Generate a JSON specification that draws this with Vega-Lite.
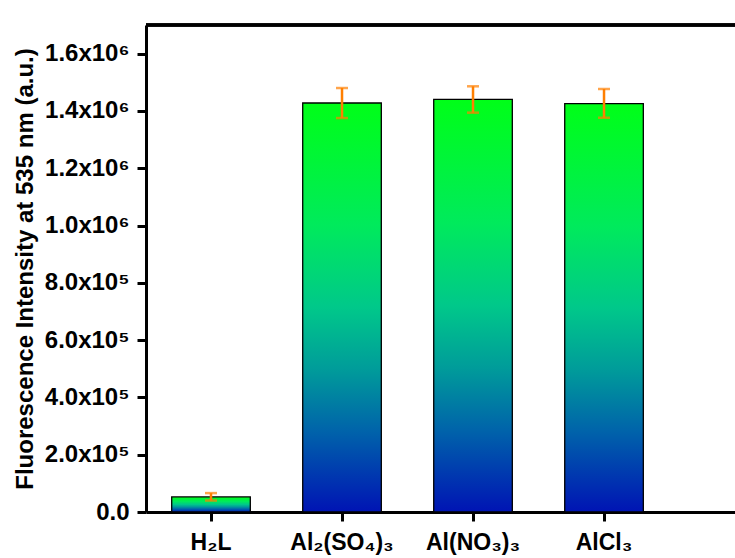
{
  "$schema": "https://vega.github.io/schema/vega-lite/v6.json",
  "width": 589,
  "height": 487,
  "autosize": {"type": "none"},
  "padding": {"left": 146, "top": 25, "right": 0, "bottom": 46},
  "config": {"view": {"stroke": null}, "font": "Liberation Sans"},
  "data": {
    "values": [
      {"name": "H₂L", "value": 52500, "lo": 40000, "hi": 66000},
      {"name": "Al₂(SO₄)₃", "value": 1427700, "lo": 1375300, "hi": 1480000},
      {"name": "Al(NO₃)₃", "value": 1440600, "lo": 1394000, "hi": 1486000},
      {"name": "AlCl₃", "value": 1425300, "lo": 1376300, "hi": 1476600}
    ]
  },
  "encoding": {
    "x": {
      "field": "name",
      "type": "nominal",
      "sort": null,
      "scale": {"paddingInner": 0.4, "paddingOuter": 0.448, "align": 0.219},
      "axis": {
        "title": null,
        "labelAngle": 0,
        "labelFont": "Liberation Sans",
        "labelFontWeight": "bold",
        "labelFontSize": 23,
        "labelColor": "black",
        "labelPadding": 10,
        "domainColor": "black",
        "domainWidth": 3,
        "tickColor": "black",
        "tickWidth": 3,
        "tickSize": 9
      }
    }
  },
  "layer": [
    {
      "mark": {
        "type": "bar",
        "stroke": "black",
        "strokeWidth": 1.3,
        "fill": {
          "gradient": "linear",
          "x1": 0, "y1": 0, "x2": 0, "y2": 1,
          "stops": [
            {"offset": 0, "color": "#00ff18"},
            {"offset": 0.3, "color": "#00ea5c"},
            {"offset": 0.5, "color": "#00c88a"},
            {"offset": 0.65, "color": "#009c9a"},
            {"offset": 0.8, "color": "#0064aa"},
            {"offset": 1, "color": "#0014b4"}
          ]
        }
      },
      "encoding": {
        "y": {
          "field": "value",
          "type": "quantitative",
          "title": "Fluorescence Intensity at 535 nm (a.u.)",
          "scale": {"domain": [0, 1700000], "nice": false, "zero": true},
          "axis": {
            "values": [0, 200000, 400000, 600000, 800000, 1000000, 1200000, 1400000, 1600000],
            "labelExpr": "datum.value == 0 ? '0.0' : (datum.value < 1000000 ? format(datum.value / 100000, '.1f') + 'x10⁵' : format(datum.value / 1000000, '.1f') + 'x10⁶')",
            "grid": false,
            "titleFont": "Liberation Sans",
            "titleFontWeight": "bold",
            "titleFontSize": 24,
            "titleColor": "black",
            "titlePadding": 7,
            "labelFont": "Liberation Sans",
            "labelFontWeight": "bold",
            "labelFontSize": 24,
            "labelColor": "black",
            "labelPadding": 8,
            "domainColor": "black",
            "domainWidth": 3,
            "tickColor": "black",
            "tickWidth": 3,
            "tickSize": 9
          }
        }
      }
    },
    {
      "mark": {
        "type": "errorbar",
        "ticks": {"size": 12, "thickness": 2.5, "color": "#ff7f00"},
        "rule": {"strokeWidth": 2.5, "color": "#ff7f00"}
      },
      "encoding": {
        "y": {"field": "lo", "type": "quantitative", "title": "Fluorescence Intensity at 535 nm (a.u.)"},
        "y2": {"field": "hi"}
      }
    },
    {
      "mark": {"type": "rule", "color": "black", "strokeWidth": 3},
      "encoding": {"x": null, "y": {"datum": 1700000, "type": "quantitative"}}
    }
  ]
}
